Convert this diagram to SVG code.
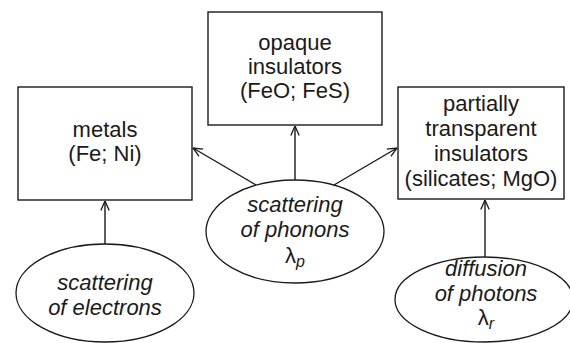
<svg xmlns="http://www.w3.org/2000/svg" width="570" height="343" viewBox="0 0 570 343">
<defs>
<marker id="arr" viewBox="0 0 10 10" refX="9.5" refY="5" markerWidth="10" markerHeight="10" markerUnits="userSpaceOnUse" orient="auto">
<path d="M0,0.8 L9.5,5 L0,9.2" fill="none" stroke="#1a1a1a" stroke-width="1.3"/>
</marker>
<style>
.box{fill:#fff;stroke:#1a1a1a;stroke-width:1.4}
.ell{fill:#fff;stroke:#1a1a1a;stroke-width:1.3}
.t{font-family:"Liberation Sans",Arial,sans-serif;font-size:22px;fill:#1a1a1a;text-anchor:middle}
.i{font-style:italic}
.c{stroke:#1a1a1a;stroke-width:1.4;fill:none;marker-end:url(#arr)}
</style>
</defs>
<rect width="570" height="343" fill="#fff"/>
<g id="connectors">
<line class="c" x1="105" y1="244" x2="105" y2="201"/>
<line class="c" x1="295" y1="180" x2="295" y2="126"/>
<line class="c" x1="256" y1="185" x2="193" y2="148"/>
<line class="c" x1="334" y1="185" x2="397" y2="148"/>
<line class="c" x1="485" y1="257" x2="485" y2="200"/>
</g>
<g id="metals">
<rect class="box" x="18" y="87" width="174" height="113"/>
<text class="t" x="105" y="137">metals</text>
<text class="t" x="105" y="161">(Fe; Ni)</text>
</g>
<g id="opaque">
<rect class="box" x="208" y="12" width="174" height="113"/>
<text class="t" x="295" y="50">opaque</text>
<text class="t" x="295" y="74">insulators</text>
<text class="t" x="295" y="98">(FeO; FeS)</text>
</g>
<g id="partial">
<rect class="box" x="398" y="87" width="166" height="112"/>
<text class="t" x="481" y="111">partially</text>
<text class="t" x="481" y="136">transparent</text>
<text class="t" x="481" y="161">insulators</text>
<text class="t" x="481" y="186">(silicates; MgO)</text>
</g>
<g id="electrons">
<ellipse class="ell" cx="105" cy="293" rx="89" ry="49"/>
<text class="t i" x="105" y="290">scattering</text>
<text class="t i" x="105" y="315">of electrons</text>
</g>
<g id="phonons">
<ellipse class="ell" cx="295" cy="231.5" rx="89" ry="51.5"/>
<text class="t i" x="295" y="212">scattering</text>
<text class="t i" x="295" y="237">of phonons</text>
<text class="t" x="295" y="263">λ<tspan class="i" font-size="16" dy="4">p</tspan></text>
</g>
<g id="photons">
<ellipse class="ell" cx="484" cy="299.5" rx="89" ry="42.5"/>
<text class="t i" x="486" y="276">diffusion</text>
<text class="t i" x="486" y="301">of photons</text>
<text class="t" x="486" y="325">λ<tspan class="i" font-size="16" dy="4">r</tspan></text>
</g>
</svg>
